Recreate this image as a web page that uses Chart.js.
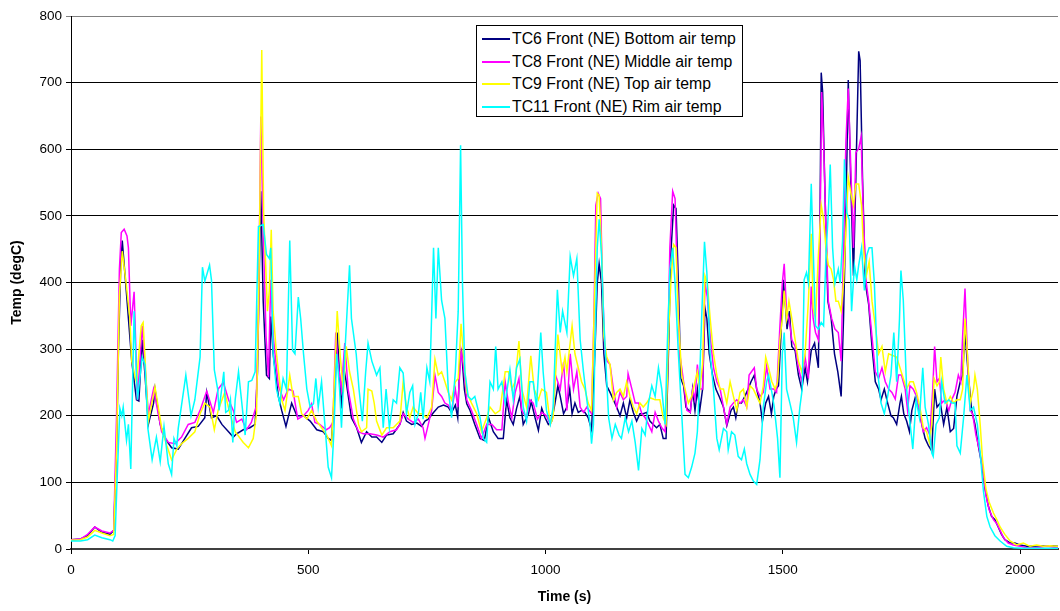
<!DOCTYPE html>
<html>
<head>
<meta charset="utf-8">
<script src="https://cdn.jsdelivr.net/npm/chart.js@4.4.1/dist/chart.umd.min.js"></script>
<style>
  body { margin: 0; background: #fff; }
  #wrap { position: relative; width: 1060px; height: 611px; }
  #legend {
    position: absolute; left: 476px; top: 25px; width: 265px; height: 90px;
    border: 1px solid #000; background: #fff;
    font-family: "Liberation Sans", Arial, sans-serif; font-size: 15.8px; color: #000;
  }
  .row { position: absolute; left: 0; height: 20px; line-height: 20px; white-space: nowrap; }
  .swatch { position: absolute; left: 5px; top: 9px; width: 28px; height: 2px; }
  .lbl { position: absolute; left: 35px; top: 0; }
</style>
</head>
<body>
<div id="wrap">
  <canvas id="myChart" width="1060" height="611"></canvas>
  <div id="legend"></div>
</div>
<script>
// time (s) and temperature (degC), one pair of arrays per thermocouple
const tc6Time = [
  0, 20, 35, 50, 65, 82, 90, 96, 100, 105,
  108, 117, 128, 138, 143, 150, 156, 163, 174, 177,
  188, 198, 212, 226, 240, 254, 268, 282, 286, 296,
  307, 318, 332, 342, 349, 363, 377, 388, 393, 400,
  405, 412, 418, 421, 426, 437, 444, 453, 465, 476,
  490, 504, 518, 532, 542, 549, 556, 561, 567, 570,
  575, 580, 591, 602, 612, 623, 634, 644, 655, 665,
  679, 693, 700, 707, 718, 729, 739, 746, 753, 764,
  774, 785, 795, 802, 810, 815, 820, 823, 829, 834,
  841, 851, 862, 871, 880, 890, 900, 911, 918, 925,
  932, 939, 946, 953, 964, 970, 978, 985, 992, 999,
  1006, 1013, 1020, 1026, 1031, 1038, 1045, 1051, 1056, 1062,
  1069, 1076, 1083, 1090, 1097, 1104, 1109, 1113, 1118, 1123,
  1129, 1136, 1143, 1150, 1157, 1164, 1171, 1178, 1185, 1192,
  1199, 1206, 1213, 1220, 1227, 1234, 1241, 1248, 1254, 1259,
  1264, 1270, 1275, 1280, 1285, 1291, 1296, 1305, 1310, 1315,
  1320, 1325, 1331, 1336, 1340, 1345, 1352, 1359, 1366, 1375,
  1382, 1391, 1396, 1401, 1406, 1413, 1420, 1427, 1433, 1440,
  1445, 1452, 1457, 1464, 1470, 1476, 1481, 1486, 1491, 1496,
  1501, 1505, 1509, 1514, 1519, 1526, 1533, 1540, 1547, 1552,
  1560, 1567, 1575, 1578, 1581, 1584, 1589, 1595, 1602, 1609,
  1616, 1623, 1628, 1633, 1638, 1643, 1649, 1654, 1660, 1663,
  1668, 1674, 1681, 1688, 1695, 1702, 1707, 1714, 1721, 1728,
  1733, 1740, 1747, 1750, 1755, 1761, 1767, 1772, 1779, 1786,
  1793, 1800, 1807, 1814, 1820, 1825, 1832, 1839, 1846, 1853,
  1860, 1867, 1874, 1879, 1884, 1891, 1898, 1905, 1912, 1919,
  1926, 1933, 1940, 1947, 1954, 1961, 1968, 1979, 1989, 2000,
  2014, 2028, 2042, 2056, 2070, 2080
];
const tc6Temp = [
  14, 15, 20, 33, 25, 22, 28, 150, 300, 430,
  463, 383, 282, 224, 222, 314, 261, 187, 219, 240,
  187, 166, 152, 150, 166, 182, 184, 197, 235, 197,
  200, 187, 176, 168, 173, 179, 182, 187, 266, 537,
  373, 261, 256, 349, 293, 229, 208, 184, 219, 200,
  200, 192, 179, 176, 166, 163, 240, 325, 245, 211,
  272, 251, 197, 182, 160, 176, 168, 168, 160, 171,
  173, 187, 205, 192, 187, 189, 184, 192, 195, 205,
  213, 216, 213, 205, 216, 197, 293, 298, 240, 218,
  208, 187, 166, 163, 197, 176, 166, 166, 224, 197,
  187, 211, 229, 187, 203, 221, 197, 178, 211, 197,
  187, 192, 219, 245, 229, 203, 213, 240, 203, 219,
  205, 208, 205, 197, 179, 293, 399, 428, 399, 293,
  245, 235, 224, 213, 200, 219, 197, 224, 205, 192,
  203, 203, 205, 192, 187, 182, 187, 166, 166, 293,
  442, 516, 511, 399, 256, 245, 213, 205, 240, 208,
  240, 208, 240, 362, 346, 293, 261, 240, 229, 213,
  185, 208, 213, 197, 219, 219, 229, 240, 251, 261,
  240, 219, 192, 219, 229, 203, 229, 240, 245, 319,
  404, 372, 330, 357, 304, 298, 261, 240, 272, 251,
  298, 309, 272, 452, 715, 686, 532, 372, 346, 293,
  266, 229, 346, 505, 704, 558, 410, 558, 747, 733,
  558, 399, 367, 304, 251, 240, 224, 240, 219, 200,
  197, 187, 219, 229, 203, 192, 176, 208, 227, 213,
  187, 166, 155, 147, 240, 213, 219, 187, 213, 176,
  181, 229, 251, 261, 325, 261, 208, 187, 155, 128,
  91, 65, 49, 44, 33, 22, 14, 9, 9, 6,
  4, 4, 5, 4, 5, 4
];

const tc8Time = [
  0, 20, 35, 50, 65, 82, 90, 96, 102, 106,
  112, 118, 121, 126, 133, 140, 150, 163, 174, 191,
  205, 219, 233, 247, 261, 272, 286, 300, 310, 321,
  332, 342, 349, 360, 370, 380, 390, 395, 400, 405,
  411, 416, 421, 426, 437, 448, 458, 468, 478, 490,
  500, 507, 514, 524, 538, 545, 552, 558, 563, 570,
  577, 584, 595, 606, 616, 630, 644, 658, 672, 686,
  693, 700, 711, 721, 732, 742, 746, 753, 760, 767,
  774, 781, 788, 795, 802, 810, 815, 822, 827, 834,
  844, 855, 865, 876, 887, 897, 908, 915, 922, 929,
  936, 944, 950, 960, 967, 974, 983, 992, 1002, 1010,
  1016, 1021, 1031, 1038, 1045, 1052, 1059, 1066, 1073, 1080,
  1087, 1097, 1102, 1106, 1111, 1116, 1120, 1125, 1130, 1136,
  1143, 1150, 1157, 1164, 1171, 1174, 1182, 1189, 1196, 1203,
  1210, 1217, 1224, 1231, 1238, 1245, 1252, 1257, 1262, 1268,
  1273, 1278, 1283, 1291, 1298, 1305, 1310, 1315, 1320, 1325,
  1331, 1336, 1341, 1347, 1354, 1361, 1368, 1375, 1382, 1389,
  1396, 1403, 1410, 1417, 1424, 1429, 1434, 1440, 1445, 1452,
  1459, 1466, 1473, 1481, 1487, 1494, 1499, 1503, 1508, 1513,
  1519, 1526, 1533, 1540, 1547, 1554, 1560, 1564, 1569, 1575,
  1579, 1582, 1586, 1591, 1596, 1603, 1610, 1617, 1623, 1628,
  1633, 1638, 1644, 1649, 1654, 1660, 1665, 1670, 1676, 1681,
  1688, 1695, 1702, 1709, 1716, 1723, 1730, 1737, 1744, 1750,
  1758, 1763, 1768, 1775, 1782, 1789, 1796, 1803, 1810, 1816,
  1820, 1825, 1830, 1835, 1842, 1850, 1856, 1863, 1870, 1875,
  1879, 1884, 1889, 1895, 1900, 1907, 1914, 1921, 1928, 1935,
  1944, 1951, 1958, 1965, 1975, 1986, 2000, 2014, 2035, 2056,
  2080
];
const tc8Temp = [
  14, 15, 22, 33, 27, 24, 28, 200, 420, 475,
  480, 470, 452, 335, 386, 224, 335, 203, 240, 176,
  160, 158, 168, 187, 190, 208, 237, 205, 240, 250,
  224, 208, 190, 195, 179, 190, 213, 346, 649, 479,
  320, 258, 404, 320, 245, 224, 240, 237, 195, 200,
  208, 218, 190, 187, 179, 182, 190, 325, 277, 240,
  309, 240, 195, 176, 173, 173, 171, 168, 176, 179,
  187, 203, 195, 190, 195, 182, 166, 187, 208, 261,
  235, 229, 219, 216, 208, 240, 213, 298, 276, 224,
  208, 187, 166, 187, 187, 179, 179, 251, 219, 197,
  235, 256, 208, 197, 224, 219, 195, 205, 200, 187,
  203, 261, 240, 280, 208, 293, 240, 266, 213, 205,
  213, 203, 346, 516, 534, 526, 399, 298, 282, 277,
  240, 213, 235, 224, 229, 263, 240, 219, 219, 203,
  197, 187, 176, 205, 192, 182, 176, 266, 452, 537,
  526, 399, 293, 251, 208, 205, 240, 224, 277, 240,
  240, 399, 378, 319, 272, 251, 240, 213, 187, 213,
  219, 224, 219, 224, 213, 261, 266, 272, 240, 229,
  235, 274, 240, 240, 235, 335, 399, 428, 357, 346,
  314, 304, 272, 251, 288, 256, 394, 346, 325, 314,
  505, 686, 611, 479, 372, 346, 330, 325, 282, 452,
  611, 691, 558, 452, 595, 601, 619, 494, 399, 372,
  319, 266, 256, 272, 251, 240, 235, 225, 261, 261,
  240, 208, 245, 240, 229, 203, 176, 182, 171, 240,
  304, 251, 256, 219, 224, 208, 224, 235, 261, 251,
  319, 391, 293, 208, 203, 171, 150, 123, 81, 59,
  44, 38, 28, 17, 9, 6, 4, 2, 2, 4,
  2
];

const tc9Time = [
  0, 20, 35, 50, 65, 82, 90, 96, 102, 108,
  116, 124, 128, 138, 148, 152, 163, 177, 191, 202,
  212, 223, 233, 247, 261, 272, 282, 293, 302, 310,
  324, 335, 346, 363, 374, 384, 391, 396, 402, 406,
  414, 418, 422, 426, 433, 444, 451, 461, 468, 479,
  486, 497, 507, 518, 528, 539, 549, 556, 561, 567,
  574, 580, 587, 595, 606, 612, 623, 626, 634, 639,
  644, 655, 665, 679, 693, 700, 707, 714, 721, 732,
  739, 750, 760, 767, 774, 781, 788, 795, 802, 810,
  816, 822, 827, 834, 844, 855, 865, 876, 883, 894,
  904, 915, 922, 929, 936, 944, 950, 960, 969, 976,
  985, 992, 1002, 1010, 1016, 1026, 1035, 1041, 1045, 1056,
  1062, 1069, 1076, 1083, 1090, 1097, 1104, 1109, 1113, 1118,
  1123, 1129, 1136, 1143, 1150, 1157, 1164, 1171, 1178, 1185,
  1192, 1199, 1206, 1213, 1220, 1231, 1241, 1248, 1254, 1259,
  1264, 1270, 1275, 1280, 1287, 1294, 1301, 1308, 1315, 1320,
  1325, 1331, 1336, 1341, 1347, 1354, 1361, 1368, 1375, 1382,
  1389, 1396, 1403, 1410, 1417, 1424, 1431, 1438, 1445, 1452,
  1459, 1464, 1470, 1477, 1484, 1489, 1494, 1499, 1503, 1508,
  1513, 1519, 1526, 1533, 1540, 1547, 1554, 1560, 1564, 1569,
  1575, 1581, 1586, 1591, 1596, 1602, 1607, 1612, 1617, 1623,
  1628, 1633, 1638, 1644, 1649, 1654, 1660, 1666, 1670, 1676,
  1682, 1688, 1695, 1702, 1709, 1716, 1723, 1733, 1740, 1747,
  1754, 1761, 1768, 1775, 1782, 1789, 1796, 1803, 1809, 1814,
  1819, 1825, 1830, 1833, 1839, 1846, 1853, 1860, 1867, 1874,
  1879, 1884, 1889, 1895, 1902, 1905, 1910, 1916, 1921, 1928,
  1935, 1944, 1951, 1958, 1968, 1979, 1993, 2007, 2021, 2035,
  2049, 2063, 2080
];
const tc9Temp = [
  13, 14, 18, 28, 24, 20, 22, 150, 380, 447,
  400, 346, 282, 250, 335, 340, 192, 243, 182, 155,
  134, 150, 158, 166, 176, 203, 219, 213, 179, 208,
  235, 203, 176, 160, 152, 166, 203, 399, 749, 505,
  357, 388, 479, 357, 293, 224, 208, 261, 229, 229,
  203, 195, 208, 192, 182, 171, 155, 266, 357, 293,
  235, 304, 266, 240, 187, 176, 182, 240, 237, 219,
  192, 171, 182, 182, 192, 251, 213, 197, 213, 203,
  203, 197, 213, 285, 261, 266, 251, 235, 224, 251,
  256, 338, 293, 235, 219, 203, 176, 197, 213, 203,
  208, 266, 266, 240, 251, 312, 240, 213, 290, 240,
  224, 240, 235, 187, 197, 322, 266, 288, 266, 335,
  293, 272, 251, 240, 219, 208, 399, 534, 531, 452,
  319, 288, 277, 224, 235, 240, 229, 251, 229, 213,
  203, 219, 213, 219, 227, 224, 224, 197, 187, 319,
  399, 457, 452, 346, 261, 240, 219, 229, 251, 266,
  240, 277, 410, 399, 346, 293, 261, 240, 240, 219,
  251, 229, 208, 235, 240, 213, 245, 240, 229, 219,
  245, 288, 272, 251, 240, 251, 314, 346, 388, 346,
  372, 346, 314, 282, 266, 293, 372, 473, 362, 346,
  441, 516, 495, 452, 426, 420, 404, 372, 372, 357,
  399, 479, 558, 532, 516, 548, 548, 516, 452, 410,
  431, 372, 335, 293, 304, 266, 293, 290, 288, 272,
  256, 240, 251, 251, 235, 213, 182, 176, 160, 187,
  256, 245, 251, 288, 240, 219, 229, 219, 224, 224,
  240, 346, 293, 219, 240, 261, 240, 187, 134, 91,
  70, 54, 44, 33, 22, 12, 6, 9, 4, 6,
  4, 5, 4
];

const tc11Time = [
  0, 20, 35, 50, 65, 82, 88, 93, 98, 103,
  107, 110, 117, 121, 126, 133, 140, 150, 156, 162,
  171, 180, 188, 196, 205, 212, 217, 223, 226, 242,
  253, 261, 272, 277, 282, 292, 296, 302, 309, 312,
  322, 326, 332, 336, 341, 346, 353, 360, 367, 374,
  381, 388, 395, 405, 412, 418, 421, 426, 433, 440,
  447, 454, 461, 467, 472, 479, 484, 490, 497, 504,
  511, 516, 521, 528, 535, 542, 549, 554, 560, 566,
  570, 577, 587, 591, 601, 607, 614, 621, 626, 634,
  644, 651, 658, 664, 671, 679, 686, 693, 700, 707,
  714, 720, 725, 732, 737, 742, 750, 756, 764, 769,
  774, 781, 788, 795, 802, 810, 816, 821, 825, 830,
  837, 844, 851, 862, 869, 876, 883, 890, 895, 900,
  908, 915, 925, 932, 939, 946, 953, 960, 967, 974,
  981, 990, 995, 1002, 1010, 1016, 1025, 1031, 1036, 1045,
  1052, 1059, 1066, 1073, 1080, 1087, 1094, 1097, 1101, 1104,
  1109, 1113, 1118, 1122, 1128, 1133, 1140, 1147, 1155, 1160,
  1168, 1175, 1182, 1189, 1196, 1203, 1210, 1217, 1224, 1231,
  1238, 1245, 1252, 1257, 1262, 1268, 1273, 1280, 1287, 1294,
  1301, 1308, 1315, 1320, 1324, 1329, 1335, 1340, 1347, 1354,
  1361, 1366, 1375, 1382, 1385, 1392, 1399, 1406, 1413, 1419,
  1424, 1431, 1438, 1445, 1452, 1459, 1466, 1470, 1477, 1482,
  1489, 1494, 1499, 1503, 1508, 1515, 1522, 1529, 1536, 1541,
  1545, 1550, 1554, 1560, 1564, 1569, 1575, 1581, 1586, 1591,
  1596, 1600, 1605, 1610, 1617, 1621, 1626, 1630, 1635, 1640,
  1645, 1651, 1656, 1660, 1666, 1672, 1677, 1682, 1688, 1693,
  1700, 1707, 1714, 1721, 1728, 1734, 1740, 1746, 1749, 1754,
  1761, 1767, 1774, 1781, 1788, 1795, 1800, 1807, 1814, 1817,
  1823, 1830, 1835, 1842, 1850, 1856, 1863, 1867, 1874, 1881,
  1888, 1895, 1902, 1910, 1916, 1923, 1930, 1937, 1947, 1958,
  1972, 1986, 2007, 2080
];
const tc11Temp = [
  12, 12, 14, 21, 17, 14, 12, 20, 120, 211,
  200, 213, 163, 187, 120, 357, 224, 288, 277, 181,
  134, 168, 131, 184, 128, 112, 166, 155, 181, 261,
  200, 224, 288, 423, 402, 426, 404, 269, 240, 208,
  266, 205, 208, 224, 160, 224, 266, 219, 171, 251,
  253, 266, 484, 487, 442, 436, 452, 293, 240, 219,
  256, 240, 463, 298, 293, 378, 346, 293, 240, 213,
  218, 256, 213, 251, 187, 123, 107, 176, 293, 240,
  182, 293, 426, 346, 293, 240, 192, 266, 309, 282,
  261, 272, 182, 240, 182, 224, 219, 272, 264, 203,
  235, 245, 187, 203, 235, 195, 272, 251, 452, 346,
  452, 373, 346, 240, 197, 266, 357, 606, 399, 266,
  229, 224, 229, 197, 166, 160, 251, 240, 304, 240,
  251, 219, 269, 224, 272, 285, 213, 192, 251, 251,
  213, 325, 266, 208, 187, 213, 389, 325, 357, 325,
  439, 410, 436, 314, 266, 224, 187, 158, 187, 293,
  452, 495, 442, 357, 266, 197, 166, 187, 171, 166,
  197, 176, 192, 160, 118, 181, 171, 219, 245, 229,
  272, 240, 187, 314, 419, 452, 399, 293, 203, 112,
  107, 123, 144, 176, 240, 346, 461, 415, 293, 240,
  166, 149, 181, 176, 149, 176, 171, 139, 134, 150,
  128, 112, 102, 97, 134, 213, 251, 261, 235, 213,
  166, 107, 293, 325, 240, 219, 197, 160, 213, 240,
  404, 415, 399, 548, 452, 335, 330, 340, 335, 441,
  505, 577, 452, 399, 420, 399, 463, 585, 505, 494,
  357, 426, 404, 426, 452, 388, 441, 452, 452, 399,
  266, 219, 203, 229, 261, 325, 251, 346, 418, 373,
  240, 197, 150, 224, 197, 272, 213, 187, 144, 139,
  187, 197, 251, 219, 224, 219, 219, 155, 144, 197,
  261, 208, 213, 187, 144, 86, 49, 33, 20, 12,
  4, 2, 1, 1
];

const seriesLabels = [
  "TC6 Front (NE) Bottom air temp",
  "TC8 Front (NE) Middle air temp",
  "TC9 Front (NE) Top air temp",
  "TC11 Front (NE) Rim air temp"
];
const seriesColors = ["#000080", "#FF00FF", "#FFFF00", "#00FFFF"];
const xTickValues = [0, 500, 1000, 1500, 2000];

const fontName = '"Liberation Sans", Arial, sans-serif';

function toPoints(times, temps) {
  return times.map((t, i) => ({ x: t, y: temps[i] }));
}

const allTimes = [tc6Time, tc8Time, tc9Time, tc11Time];
const allTemps = [tc6Temp, tc8Temp, tc9Temp, tc11Temp];

const datasets = seriesLabels.map((label, i) => ({
  label: label,
  data: toPoints(allTimes[i], allTemps[i]),
  borderColor: seriesColors[i],
  backgroundColor: seriesColors[i],
  borderWidth: 1.5,
  pointRadius: 0,
  tension: 0,
  fill: false,
  order: 3 - i
}));

const config = {
  type: "line",
  data: { datasets: datasets },
  options: {
    responsive: false,
    animation: false,
    layout: { padding: { top: 16, right: 2, left: 0, bottom: 0 } },
    plugins: { legend: { display: false }, tooltip: { enabled: false } },
    scales: {
      x: {
        type: "linear",
        min: 0,
        max: 2080,
        afterFit: (s) => { s.height = 62; },
        afterBuildTicks: (s) => { s.ticks = xTickValues.map(v => ({ value: v })); },
        ticks: {
          autoSkip: false, maxRotation: 0, padding: 8, color: "#000",
          font: { family: fontName, size: 13.5 },
          callback: (value) => String(value)
        },
        grid: { drawOnChartArea: false, drawTicks: true, tickLength: 5, color: "#000" },
        border: { color: "#404040", width: 2 },
        title: {
          display: true, text: "Time (s)", color: "#000",
          font: { family: fontName, size: 14, weight: "bold" },
          padding: { top: 0, bottom: 5 }
        }
      },
      y: {
        min: 0,
        max: 800,
        afterFit: (s) => { s.width = 71; },
        ticks: {
          stepSize: 100, padding: 4, color: "#000",
          font: { family: fontName, size: 13.5 },
          callback: (value) => String(value)
        },
        grid: {
          color: (ctx) => (ctx.tick && ctx.tick.value === 800 ? "#808080" : "#000"),
          lineWidth: 1,
          tickLength: 5
        },
        border: { color: "#000", width: 1 },
        title: {
          display: true, text: "Temp (degC)", color: "#000",
          font: { family: fontName, size: 14, weight: "bold" },
          padding: { top: 9, bottom: 0 }
        }
      }
    }
  }
};

const chartDOM = document.getElementById("myChart");
const myChart = new Chart(chartDOM, config);

// legend box inside the plot, like the original
const legendBox = document.getElementById("legend");
seriesLabels.forEach((label, i) => {
  const row = document.createElement("div");
  row.className = "row";
  row.style.top = (3 + i * 22.5) + "px";
  row.innerHTML = '<span class="swatch" style="background:' + seriesColors[i] + '"></span>' +
    '<span class="lbl">' + label + '</span>';
  legendBox.appendChild(row);
});
</script>
</body>
</html>
